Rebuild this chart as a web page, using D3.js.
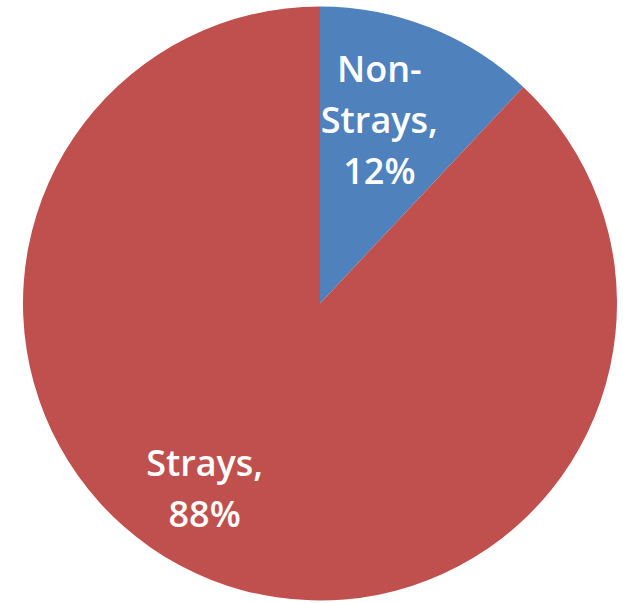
<!DOCTYPE html>
<html>
<head>
<meta charset="utf-8">
<script src="https://cdn.jsdelivr.net/npm/d3@7"></script>
<style>
  body { margin: 0; background: #fff; }
  svg { display: block; }
</style>
</head>
<body>
<svg id="chart"></svg>
<script>
// data
const categories = ["Non-Strays", "Strays"];
const values = [12, 88];
const colors = ["#4F81BD", "#C0504D"];

// layout
const width = 623, height = 603;
const cx = 320, cy = 303.5, radius = 297;
// where each label sits: angle shift (deg) from the slice centroid and radius fraction
const labelShift = [-3.7, 10.3];
const labelRadius = [0.65, 0.735];
const lineHeight = 51;
const fontSize = 36;

const svg = d3.select("#chart")
    .attr("width", width)
    .attr("height", height);

const g = svg.append("g")
    .attr("transform", `translate(${cx},${cy})`);

const table = categories.map((c, i) => ({ name: c, value: values[i], i: i }));

const pie = d3.pie()
    .value(d => d.value)
    .sort(null);

const arc = d3.arc()
    .innerRadius(0)
    .outerRadius(radius);

const arcs = pie(table);

g.selectAll("path")
  .data(arcs)
  .join("path")
    .attr("d", arc)
    .attr("fill", d => colors[d.data.i]);

const total = d3.sum(values);

// split name after a hyphen like Excel wraps it, then add the percent line
function labelLines(d) {
  const pct = Math.round(d.data.value / total * 100) + "%";
  const parts = d.data.name.split(/(?<=-)/);
  parts[parts.length - 1] += ",";
  return parts.concat([pct]);
}

const labels = g.selectAll("text.label")
  .data(arcs)
  .join("text")
    .attr("class", "label")
    .attr("text-anchor", "middle")
    .attr("fill", "#fff")
    .style("font-family", "'Open Sans', sans-serif")
    .style("font-weight", 600)
    .style("font-size", fontSize + "px")
    .attr("transform", d => {
      const a = (d.startAngle + d.endAngle) / 2 + labelShift[d.data.i] * Math.PI / 180;
      const r = radius * labelRadius[d.data.i];
      return `translate(${r * Math.sin(a)},${-r * Math.cos(a)})`;
    });

labels.each(function(d) {
  const lines = labelLines(d);
  const n = lines.length;
  d3.select(this).selectAll("tspan")
    .data(lines)
    .join("tspan")
      .attr("x", 0)
      .attr("y", (l, i) => (i - (n - 1) / 2) * lineHeight + fontSize * 0.36)
      .text(l => l);
});
</script>
</body>
</html>
